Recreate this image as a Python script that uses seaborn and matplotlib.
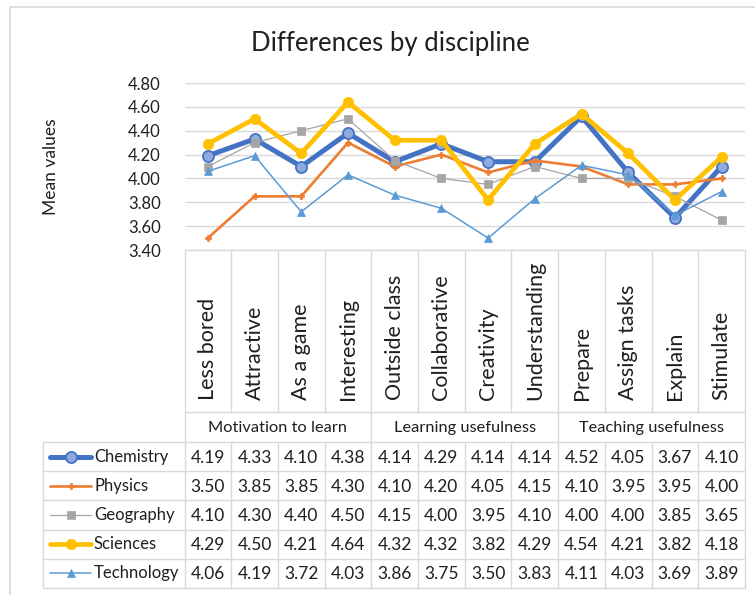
import matplotlib
matplotlib.use("Agg")
import matplotlib.pyplot as plt
import seaborn as sns
import pandas as pd
from matplotlib.lines import Line2D

# ---------------- data ----------------
categories = ["Less bored", "Attractive", "As a game", "Interesting",
              "Outside class", "Collaborative", "Creativity", "Understanding",
              "Prepare", "Assign tasks", "Explain", "Stimulate"]
groups = ["Motivation to learn", "Learning usefulness", "Teaching usefulness"]
group_sizes = [4, 4, 4]

chemistry = [4.19, 4.33, 4.10, 4.38, 4.14, 4.29, 4.14, 4.14, 4.52, 4.05, 3.67, 4.10]
physics = [3.50, 3.85, 3.85, 4.30, 4.10, 4.20, 4.05, 4.15, 4.10, 3.95, 3.95, 4.00]
geography = [4.10, 4.30, 4.40, 4.50, 4.15, 4.00, 3.95, 4.10, 4.00, 4.00, 3.85, 3.65]
sciences = [4.29, 4.50, 4.21, 4.64, 4.32, 4.32, 3.82, 4.29, 4.54, 4.21, 3.82, 4.18]
technology = [4.06, 4.19, 3.72, 4.03, 3.86, 3.75, 3.50, 3.83, 4.11, 4.03, 3.69, 3.89]

series_names = ["Chemistry", "Physics", "Geography", "Sciences", "Technology"]
series_values = [chemistry, physics, geography, sciences, technology]
yticks = [3.40, 3.60, 3.80, 4.00, 4.20, 4.40, 4.60, 4.80]

# ---------------- styles ----------------
styles = {
    "Chemistry": dict(color="#4472C4", lw=3.6, marker="o", ms=8, mfc="#8FAADC", mec="#4472C4", mew=1.3),
    "Physics": dict(color="#ED7D31", lw=1.9, marker="P", ms=5, mfc="#ED7D31", mec="#ED7D31", mew=0.5),
    "Geography": dict(color="#A5A5A5", lw=0.9, marker="s", ms=5.5, mfc="#A5A5A5", mec="#A5A5A5", mew=0.5),
    "Sciences": dict(color="#FFC000", lw=3.4, marker="o", ms=7.5, mfc="#FFC000", mec="#FFC000", mew=0.5),
    "Technology": dict(color="#5B9BD5", lw=1.1, marker="^", ms=6, mfc="#5B9BD5", mec="#5B9BD5", mew=0.5),
}

sns.set_theme(style="white")
plt.rcParams['font.family'] = ['Lato', 'DejaVu Sans']
txt_color = "#1F1F1F"
grid_color = "#D9D9D9"

W, H = 755, 595
fig = plt.figure(figsize=(W / 100, H / 100), dpi=100)

# overlay axes in pixel coordinates for table / frame
tab = fig.add_axes([0, 0, 1, 1])
tab.set_xlim(0, W)
tab.set_ylim(H, 0)
tab.axis("off")
tab.set_zorder(0)

L, R = 184.5, 745
T, B = 83, 250
ax = fig.add_axes([L / W, 1 - B / H, (R - L) / W, (B - T) / H])
ax.set_zorder(1)
ax.patch.set_alpha(0)

df = pd.DataFrame({
    "x": list(range(len(categories))) * len(series_names),
    "value": [v for vals in series_values for v in vals],
    "series": [n for n in series_names for _ in categories],
})

for name in series_names:
    st = styles[name]
    sns.lineplot(data=df[df["series"] == name], x="x", y="value", ax=ax,
                 color=st["color"], linewidth=st["lw"], marker=st["marker"],
                 markersize=st["ms"], markerfacecolor=st["mfc"],
                 markeredgecolor=st["mec"], markeredgewidth=st["mew"],
                 legend=False, clip_on=False)

ax.set_xlim(-0.5, len(categories) - 0.5)
ax.set_ylim(3.40, 4.80)
ax.set_yticks(yticks)
ax.set_yticklabels([f"{t:.2f}" for t in yticks], fontsize=12, color=txt_color)
ax.tick_params(axis="y", length=0, pad=17)
ax.set_xticks([])
ax.set_xlabel("")
ax.set_ylabel("")
ax.yaxis.grid(True, color=grid_color, linewidth=1.0)
ax.set_axisbelow(True)
for s in ["left", "right", "top"]:
    ax.spines[s].set_visible(False)
ax.spines["bottom"].set_color(grid_color)
ax.spines["bottom"].set_linewidth(1.0)

# ---------------- frame, title, y label ----------------
tab.plot([10, W], [7, 7], color=grid_color, lw=1.2)
tab.plot([10, 10], [7, H], color=grid_color, lw=1.2)
tab.text(390, 43, "Differences by discipline", ha="center", va="center",
         fontsize=18.5, color=txt_color)
tab.text(51, 167, "Mean values", rotation=90, ha="center", va="center",
         fontsize=12.5, color=txt_color)

# ---------------- category / table grid ----------------
cw = (R - L) / len(categories)
cat_bot = 412
grp_bot = 442
row_h = 29.2
leg_left = 43
n_rows = len(series_names)
tbl_bot = grp_bot + n_rows * row_h
lc = dict(color=grid_color, lw=1.0)

def colx(i):
    return L + i * cw

# category cells
for i in range(len(categories) + 1):
    tab.plot([colx(i), colx(i)], [B, cat_bot], **lc)
tab.plot([L, R], [cat_bot, cat_bot], **lc)
# group boundaries
bounds = [0]
for g in group_sizes:
    bounds.append(bounds[-1] + g)
for b in bounds:
    tab.plot([colx(b), colx(b)], [cat_bot, grp_bot], **lc)
# table
for r in range(n_rows + 1):
    y = grp_bot + r * row_h
    tab.plot([leg_left, R], [y, y], **lc)
tab.plot([leg_left, leg_left], [grp_bot, tbl_bot], **lc)
for i in range(len(categories) + 1):
    tab.plot([colx(i), colx(i)], [grp_bot, tbl_bot], **lc)

# category labels
for i, c in enumerate(categories):
    tab.text(colx(i) + cw / 2, 400, c, rotation=90, ha="center", va="bottom",
             fontsize=15.5, color=txt_color)
# group labels
for gi, g in enumerate(groups):
    xc = (colx(bounds[gi]) + colx(bounds[gi + 1])) / 2
    tab.text(xc, (cat_bot + grp_bot) / 2 + 1, g, ha="center", va="center",
             fontsize=11.8, color=txt_color)

# values and legend keys
for r, (name, vals) in enumerate(zip(series_names, series_values)):
    yc = grp_bot + (r + 0.5) * row_h
    st = styles[name]
    tab.add_line(Line2D([50, 91], [yc, yc], color=st["color"], lw=st["lw"],
                        solid_capstyle="round"))
    tab.add_line(Line2D([70.5], [yc], marker=st["marker"], markersize=st["ms"],
                        markerfacecolor=st["mfc"], markeredgecolor=st["mec"],
                        markeredgewidth=st["mew"], linestyle="none"))
    tab.text(94, yc, name, ha="left", va="center", fontsize=12, color=txt_color)
    for i, v in enumerate(vals):
        tab.text(colx(i) + cw / 2, yc + 1, f"{v:.2f}", ha="center", va="center",
                 fontsize=12.5, color=txt_color)

fig.savefig("out.png", dpi=100, facecolor="white")
